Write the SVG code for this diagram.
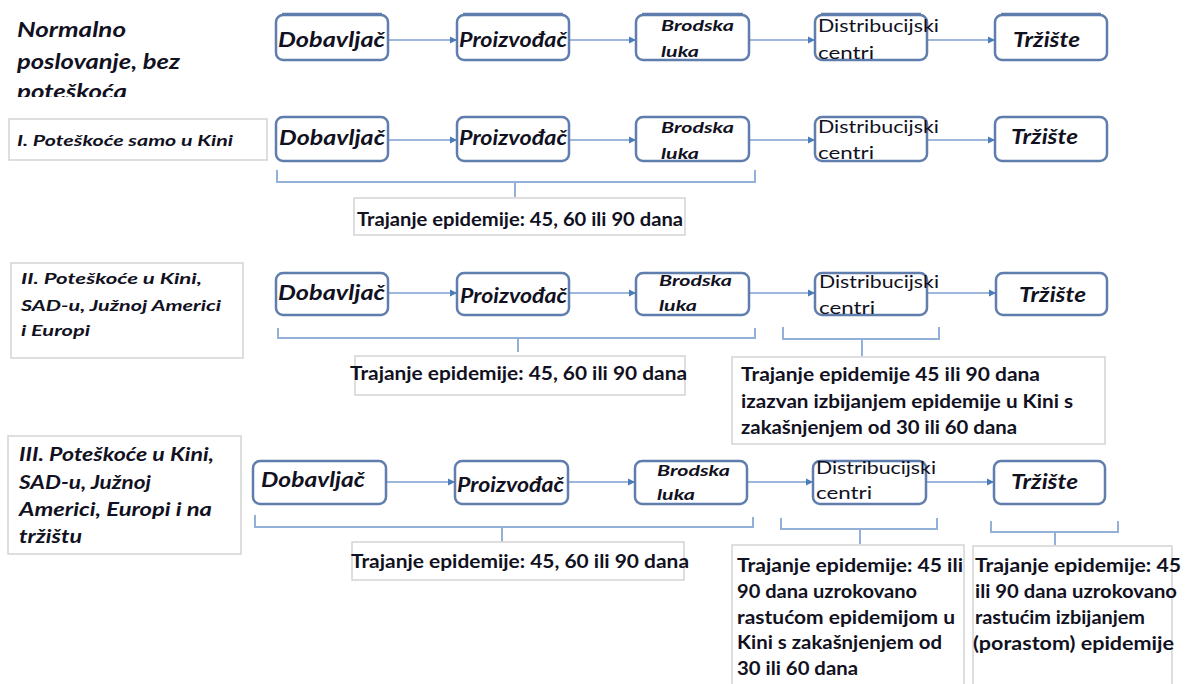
<svg xmlns="http://www.w3.org/2000/svg" width="1191" height="684" viewBox="0 0 1191 684">
<style>
text{font-family:Lato,"Liberation Sans",sans-serif;fill:#111122}
.node{fill:#fff;stroke:#5f7dad;stroke-width:2.5}
.top{stroke:#5f7dad;stroke-width:2.5;fill:none}
.lbl{fill:#fff;stroke:#d6d6d6;stroke-width:1.6}
.n{font-size:20px;font-weight:700;font-style:italic}
.b{font-size:16px;font-weight:700;font-style:italic}
.d{font-size:17px;font-weight:400}
.h{font-weight:700;font-style:italic}
.t{font-size:18px;font-weight:700}
.arr{stroke:#9db8dc;stroke-width:2;fill:none;marker-end:url(#ah)}
.br{stroke:#93b1d8;stroke-width:2;fill:none}
</style>
<defs>
<marker id="ah" markerUnits="userSpaceOnUse" markerWidth="8" markerHeight="8" refX="7" refY="4" orient="auto"><path d="M0,0.5 L7,4 L0,7.5 Z" fill="#4a7cb8"/></marker>
<clipPath id="clip0"><rect x="0" y="0" width="260" height="97"/></clipPath>
</defs>
<rect width="1191" height="684" fill="#fff"/>

<g id="connectors">
<path class="arr" d="M388,40 H457"/><path class="arr" d="M569,40 H636"/><path class="arr" d="M749,40 H815"/><path class="arr" d="M927,40 H995"/>
<path class="arr" d="M388,140 H457"/><path class="arr" d="M569,140 H636"/><path class="arr" d="M749,140 H815"/><path class="arr" d="M927,140 H995"/>
<path class="arr" d="M388,293 H457"/><path class="arr" d="M569,293 H636"/><path class="arr" d="M749,293 H815"/><path class="arr" d="M927,293 H996"/>
<path class="arr" d="M386,482 H455"/><path class="arr" d="M568,482 H635"/><path class="arr" d="M747,482 H813"/><path class="arr" d="M926,482 H994"/>
<path class="br" d="M277,170 V182 H755 V170 M515,182 V197"/>
<path class="br" d="M278,328 V338 H755 V328 M518,338 V352"/>
<path class="br" d="M783,327 V339 H939 V327 M862,339 V356"/>
<path class="br" d="M255,515 V527 H753 V517 M502,527 V542"/>
<path class="br" d="M781,518 V529 H937 V518 M860,529 V544"/>
<path class="br" d="M991,521 V532 H1118 V521 M1055,532 V545"/>
</g>

<g id="label-normalno" clip-path="url(#clip0)">
<text class="h" x="17" y="37" font-size="20" textLength="109" lengthAdjust="spacingAndGlyphs">Normalno</text>
<text class="h" x="17" y="69" font-size="20" textLength="163" lengthAdjust="spacingAndGlyphs">poslovanje, bez</text>
<text class="h" x="17" y="99" font-size="20" textLength="110" lengthAdjust="spacingAndGlyphs">poteškoća</text>
</g>

<g id="r0-dobavljac"><rect class="node" x="276" y="15" width="112" height="45" rx="7"/><path class="top" d="M282,14 H382"/><text class="n" x="278" y="47" textLength="107" lengthAdjust="spacingAndGlyphs">Dobavljač</text></g>
<g id="r0-proizvodac"><rect class="node" x="457" y="15" width="112" height="45" rx="7"/><path class="top" d="M463,14 H563"/><text class="n" x="459" y="47" textLength="108" lengthAdjust="spacingAndGlyphs">Proizvođač</text></g>
<g id="r0-luka"><rect class="node" x="636" y="15" width="113" height="45" rx="7"/><path class="top" d="M642,14 H743"/><text class="b" x="661" y="31" textLength="73" lengthAdjust="spacingAndGlyphs">Brodska</text><text class="b" x="661" y="57" textLength="38" lengthAdjust="spacingAndGlyphs">luka</text></g>
<g id="r0-distribucija"><rect class="node" x="815" y="15" width="112" height="45" rx="7"/><path class="top" d="M821,14 H921"/><text class="d" x="818" y="32" textLength="121" lengthAdjust="spacingAndGlyphs">Distribucijski</text><text class="d" x="818" y="59" textLength="56" lengthAdjust="spacingAndGlyphs">centri</text></g>
<g id="r0-trziste"><rect class="node" x="995" y="15" width="112" height="45" rx="7"/><path class="top" d="M1001,14 H1101"/><text class="n" x="1013" y="47" textLength="67" lengthAdjust="spacingAndGlyphs">Tržište</text></g>

<g id="label-I"><rect class="lbl" x="9" y="119" width="258" height="41"/><text class="h" x="17" y="146" font-size="15" textLength="216" lengthAdjust="spacingAndGlyphs">I. Poteškoće samo u Kini</text></g>
<g id="r1-dobavljac"><rect class="node" x="276" y="117" width="112" height="44" rx="7"/><text class="n" x="279" y="145" font-size="21" textLength="106" lengthAdjust="spacingAndGlyphs">Dobavljač</text></g>
<g id="r1-proizvodac"><rect class="node" x="457" y="117" width="112" height="44" rx="7"/><text class="n" x="459" y="145" textLength="108" lengthAdjust="spacingAndGlyphs">Proizvođač</text></g>
<g id="r1-luka"><rect class="node" x="636" y="117" width="113" height="44" rx="7"/><text class="b" x="661" y="133" textLength="73" lengthAdjust="spacingAndGlyphs">Brodska</text><text class="b" x="661" y="159" textLength="38" lengthAdjust="spacingAndGlyphs">luka</text></g>
<g id="r1-distribucija"><rect class="node" x="815" y="117" width="112" height="44" rx="7"/><text class="d" x="818" y="133" textLength="121" lengthAdjust="spacingAndGlyphs">Distribucijski</text><text class="d" x="818" y="159" textLength="56" lengthAdjust="spacingAndGlyphs">centri</text></g>
<g id="r1-trziste"><rect class="node" x="995" y="117" width="112" height="44" rx="7"/><text class="n" x="1011" y="144" textLength="67" lengthAdjust="spacingAndGlyphs">Tržište</text></g>
<g id="r1-trajanje"><rect class="lbl" x="354" y="198" width="331" height="37"/><text class="t" x="357" y="226" textLength="326" lengthAdjust="spacingAndGlyphs">Trajanje epidemije: 45, 60 ili 90 dana</text></g>

<g id="label-II"><rect class="lbl" x="11" y="263" width="232" height="95"/>
<text class="h" x="21" y="284" font-size="16" textLength="181" lengthAdjust="spacingAndGlyphs">II. Poteškoće u Kini,</text>
<text class="h" x="21" y="311" font-size="16" textLength="200" lengthAdjust="spacingAndGlyphs">SAD-u, Južnoj Americi</text>
<text class="h" x="21" y="336" font-size="16" textLength="69" lengthAdjust="spacingAndGlyphs">i Europi</text></g>
<g id="r2-dobavljac"><rect class="node" x="276" y="273" width="112" height="42" rx="7"/><text class="n" x="278" y="300" textLength="107" lengthAdjust="spacingAndGlyphs">Dobavljač</text></g>
<g id="r2-proizvodac"><rect class="node" x="457" y="273" width="112" height="42" rx="7"/><text class="n" x="460" y="303" textLength="107" lengthAdjust="spacingAndGlyphs">Proizvođač</text></g>
<g id="r2-luka"><rect class="node" x="636" y="273" width="113" height="42" rx="7"/><text class="b" x="659" y="286" textLength="73" lengthAdjust="spacingAndGlyphs">Brodska</text><text class="b" x="659" y="311" textLength="38" lengthAdjust="spacingAndGlyphs">luka</text></g>
<g id="r2-distribucija"><rect class="node" x="815" y="273" width="112" height="42" rx="7"/><text class="d" x="819" y="288" textLength="120" lengthAdjust="spacingAndGlyphs">Distribucijski</text><text class="d" x="819" y="314" textLength="56" lengthAdjust="spacingAndGlyphs">centri</text></g>
<g id="r2-trziste"><rect class="node" x="996" y="273" width="111" height="42" rx="7"/><text class="n" x="1019" y="302" textLength="67" lengthAdjust="spacingAndGlyphs">Tržište</text></g>
<g id="r2-trajanje1"><rect class="lbl" x="355" y="356" width="330" height="39"/><text class="t" x="350" y="380" textLength="337" lengthAdjust="spacingAndGlyphs">Trajanje epidemije: 45, 60 ili 90 dana</text></g>
<g id="r2-trajanje2"><rect class="lbl" x="732" y="357" width="373" height="87"/>
<text class="t" x="741" y="381" textLength="299" lengthAdjust="spacingAndGlyphs">Trajanje epidemije 45 ili 90 dana</text>
<text class="t" x="741" y="408" textLength="332" lengthAdjust="spacingAndGlyphs">izazvan izbijanjem epidemije u Kini s</text>
<text class="t" x="741" y="434" textLength="276" lengthAdjust="spacingAndGlyphs">zakašnjenjem od 30 ili 60 dana</text></g>

<g id="label-III"><rect class="lbl" x="8" y="436" width="233" height="118"/>
<text class="h" x="19" y="461" font-size="18" textLength="195" lengthAdjust="spacingAndGlyphs">III. Poteškoće u Kini,</text>
<text class="h" x="19" y="489" font-size="18" textLength="132" lengthAdjust="spacingAndGlyphs">SAD-u, Južnoj</text>
<text class="h" x="19" y="516" font-size="18" textLength="193" lengthAdjust="spacingAndGlyphs">Americi, Europi i na</text>
<text class="h" x="19" y="543" font-size="18" textLength="63" lengthAdjust="spacingAndGlyphs">tržištu</text></g>
<g id="r3-dobavljac"><rect class="node" x="253" y="461" width="133" height="43" rx="7"/><text class="n" x="261" y="487" textLength="104" lengthAdjust="spacingAndGlyphs">Dobavljač</text></g>
<g id="r3-proizvodac"><rect class="node" x="455" y="461" width="113" height="43" rx="7"/><text class="n" x="457" y="492" textLength="107" lengthAdjust="spacingAndGlyphs">Proizvođač</text></g>
<g id="r3-luka"><rect class="node" x="635" y="461" width="112" height="43" rx="7"/><text class="b" x="657" y="476" textLength="73" lengthAdjust="spacingAndGlyphs">Brodska</text><text class="b" x="657" y="500" textLength="38" lengthAdjust="spacingAndGlyphs">luka</text></g>
<g id="r3-distribucija"><rect class="node" x="813" y="461" width="113" height="43" rx="7"/><text class="d" x="816" y="474" textLength="120" lengthAdjust="spacingAndGlyphs">Distribucijski</text><text class="d" x="816" y="499" textLength="56" lengthAdjust="spacingAndGlyphs">centri</text></g>
<g id="r3-trziste"><rect class="node" x="994" y="461" width="111" height="43" rx="7"/><text class="n" x="1011" y="489" textLength="67" lengthAdjust="spacingAndGlyphs">Tržište</text></g>
<g id="r3-trajanje1"><rect class="lbl" x="352" y="542" width="332" height="38"/><text class="t" x="351" y="568" textLength="338" lengthAdjust="spacingAndGlyphs">Trajanje epidemije: 45, 60 ili 90 dana</text></g>
<g id="r3-trajanje2"><rect class="lbl" x="732" y="545" width="232" height="145"/>
<text class="t" x="737" y="572" textLength="226" lengthAdjust="spacingAndGlyphs">Trajanje epidemije: 45 ili</text>
<text class="t" x="737" y="598" textLength="180" lengthAdjust="spacingAndGlyphs">90 dana uzrokovano</text>
<text class="t" x="737" y="624" textLength="218" lengthAdjust="spacingAndGlyphs">rastućom epidemijom u</text>
<text class="t" x="737" y="649" textLength="205" lengthAdjust="spacingAndGlyphs">Kini s zakašnjenjem od</text>
<text class="t" x="737" y="675" textLength="121" lengthAdjust="spacingAndGlyphs">30 ili 60 dana</text></g>
<g id="r3-trajanje3"><rect class="lbl" x="973" y="546" width="199" height="145"/>
<text class="t" x="975" y="572" textLength="206" lengthAdjust="spacingAndGlyphs">Trajanje epidemije: 45</text>
<text class="t" x="975" y="598" textLength="202" lengthAdjust="spacingAndGlyphs">ili 90 dana uzrokovano</text>
<text class="t" x="975" y="624" textLength="170" lengthAdjust="spacingAndGlyphs">rastućim izbijanjem</text>
<text class="t" x="973" y="650" textLength="201" lengthAdjust="spacingAndGlyphs">(porastom) epidemije</text></g>
</svg>
